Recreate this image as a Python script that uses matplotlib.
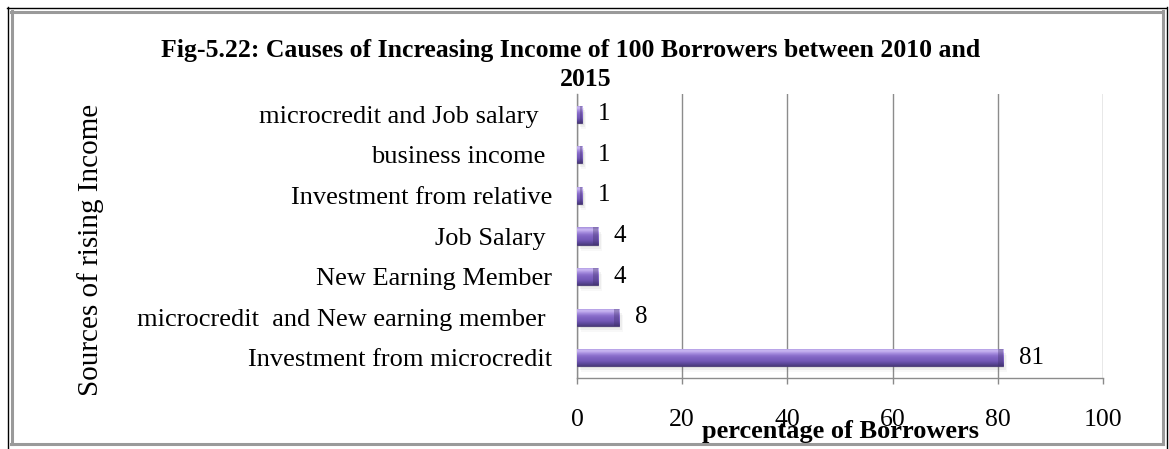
import numpy as np
import matplotlib
matplotlib.use("Agg")
import matplotlib.pyplot as plt
from matplotlib.colors import LinearSegmentedColormap
from matplotlib.patches import Rectangle
from matplotlib.lines import Line2D

# Data (top row first)
categories = [
    "microcredit and Job salary  ",
    "business income ",
    "Investment from relative",
    "Job Salary ",
    "New Earning Member",
    "microcredit  and New earning member ",
    "Investment from microcredit",
]
percentages = [1, 1, 1, 4, 4, 8, 81]
x_ticks = [0, 20, 40, 60, 80, 100]

title_line1 = "Fig-5.22: Causes of Increasing Income of 100 Borrowers between 2010 and"
title_line2 = "2015"
x_label = "percentage of Borrowers"
y_label = "Sources of rising Income"

W, H = 1169, 449
plt.rcParams["font.family"] = ["Liberation Serif", "DejaVu Serif"]

fig = plt.figure(figsize=(W / 100, H / 100), dpi=100)
fig.patch.set_facecolor("white")


def px(x, y):
    return x / W, 1 - y / H


# plot area
left, top = px(577, 94)
right, bottom = px(1103, 378)
ax = fig.add_axes([left, bottom, right - left, top - bottom])

n = len(categories)
ypos = np.arange(n)[::-1]
bar_h = 0.42

# bevelled purple fill: dark bottom, medium body, light band near the top edge
bevel = LinearSegmentedColormap.from_list(
    "bevel",
    ["#4a3a7c", "#5f4a9e", "#7459b8", "#7d61c0", "#8a6ecb", "#a88fe0",
     "#cbb9f3", "#a690dc"],
)
grad = np.linspace(0, 1, 64).reshape(-1, 1)

bars = ax.barh(ypos, percentages, height=bar_h, color="#7d61c0",
               edgecolor="#45366f", linewidth=0.6, zorder=3)

for rect, val in zip(bars, percentages):
    x0, y0 = rect.get_x(), rect.get_y()
    w, h = rect.get_width(), rect.get_height()
    # soft drop shadow
    for k, a in enumerate([0.10, 0.07, 0.04]):
        sh = Rectangle((x0 + 0.25 * (k + 1), y0 - 0.05 * (k + 1)), w, h,
                       facecolor="#606060", edgecolor="none", alpha=a, zorder=2)
        ax.add_patch(sh)
    im = ax.imshow(grad, extent=(x0, x0 + w, y0, y0 + h), origin="lower",
                   cmap=bevel, aspect="auto", zorder=4, interpolation="bilinear")
    im.set_clip_path(rect)
    # darker bevel on the bar end
    cap = min(0.9, w * 0.35)
    ax.add_patch(Rectangle((x0 + w - cap, y0), cap, h, facecolor="#3d2d66",
                           edgecolor="none", alpha=0.35, zorder=5))
    ax.text(val + 3.0, rect.get_y() + h / 2, f"{val}", ha="left", va="center",
            fontsize=18, color="black", zorder=6)

ax.set_xlim(0, 100)
ax.set_ylim(-0.5, n - 0.5)
ax.set_yticks(ypos)
ax.set_yticklabels(categories, fontsize=19)
ax.tick_params(axis="y", length=0, pad=18)
ax.set_xticks(x_ticks)
ax.set_xticklabels([str(t) for t in x_ticks], fontsize=18.5)
ax.tick_params(axis="x", direction="out", length=4, width=1, color="#8a8a8a", pad=18)

ax.grid(axis="x", color="#8c8c8c", linewidth=1.0, zorder=0)
ax.set_axisbelow(True)
for s in ["top", "right"]:
    ax.spines[s].set_visible(False)
for s in ["left", "bottom"]:
    ax.spines[s].set_color("#8c8c8c")
    ax.spines[s].set_linewidth(1.0)

ax.set_xlabel(x_label, fontsize=19, fontweight="bold")
ax.xaxis.set_label_coords(0.50, -0.19)
ax.xaxis.label.set_verticalalignment("center")

fig.text(*px(91, 250), y_label, rotation=90, ha="center", va="center", fontsize=21)

fig.text(*px(571, 50), title_line1, ha="center", va="center",
         fontsize=18.5, fontweight="bold")
fig.text(*px(586, 79), title_line2, ha="center", va="center",
         fontsize=18.5, fontweight="bold")

# double frame around the chart
def hline(x0, x1, y, color, lw):
    (a, b), (c, _) = px(x0, y), px(x1, y)
    fig.add_artist(Line2D([a, c], [b, b], color=color, linewidth=lw,
                          transform=fig.transFigure))


def vline(x, y0, y1, color, lw):
    (a, b), (_, d) = px(x, y0), px(x, y1)
    fig.add_artist(Line2D([a, a], [b, d], color=color, linewidth=lw,
                          transform=fig.transFigure))


hline(7, 1166, 7.5, "black", 1.0)
vline(7.5, 7, 452, "black", 1.0)
vline(1166.5, 7, 452, "black", 1.0)

hline(11, 1163, 11.5, "#9a9a9a", 2.2)
hline(11, 1163, 444, "#9a9a9a", 2.2)
vline(11.5, 11, 444, "#9a9a9a", 2.2)
vline(1162.5, 11, 444, "#9a9a9a", 2.2)

fig.savefig("out.png", dpi=100, facecolor="white")
